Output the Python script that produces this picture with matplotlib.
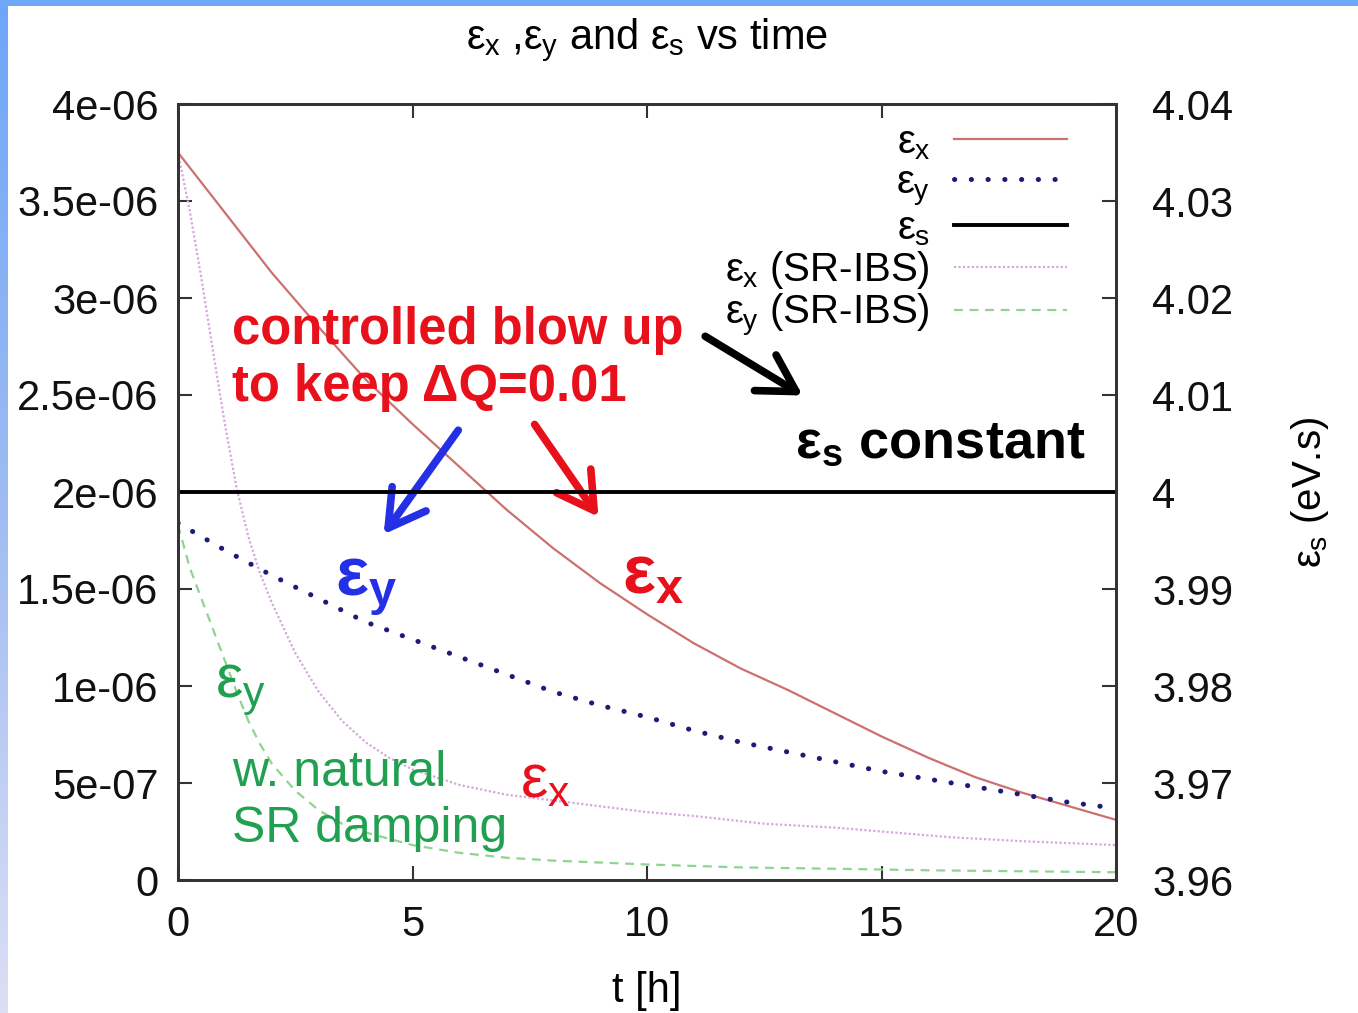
import numpy as np
import matplotlib
matplotlib.use("Agg")
import matplotlib.pyplot as plt
from matplotlib.colors import LinearSegmentedColormap

plt.rcParams['font.family'] = ['Liberation Sans', 'DejaVu Sans']
plt.rcParams['mathtext.fontset'] = 'custom'
plt.rcParams['mathtext.rm'] = 'Liberation Sans'
plt.rcParams['mathtext.it'] = 'Liberation Sans'
plt.rcParams['mathtext.bf'] = 'Liberation Sans:bold'

# ---- data ----
t_ex = [0, 1, 2, 3, 4, 5, 6, 7, 8, 9, 10, 11, 12, 13, 14, 15, 16, 17, 18, 19, 20]
ex = [3.75, 3.44, 3.13, 2.85, 2.58, 2.35, 2.13, 1.91, 1.71, 1.53, 1.37,
      1.22, 1.09, 0.98, 0.86, 0.74, 0.63, 0.53, 0.45, 0.38, 0.31]                  # 1e-6

t_ey = [0, 1, 2, 3, 4, 5, 6, 7, 8, 9, 10, 11, 12, 13, 14, 15, 16, 17, 18, 19, 20]
ey = [1.84, 1.70, 1.57, 1.45, 1.33, 1.24, 1.15, 1.06, 0.97, 0.90, 0.84,
      0.77, 0.71, 0.66, 0.61, 0.56, 0.52, 0.48, 0.44, 0.40, 0.37]                  # 1e-6

t_es = [0, 20]
es = [4.0, 4.0]                                                                   # eV.s

t_ex_ibs = [0, 0.25, 0.5, 0.75, 1.0, 1.25, 1.5, 1.75, 2.0, 2.5, 3.0, 3.5, 4.0, 4.5,
            5.0, 6, 7, 8, 9, 10, 11, 12.5, 14, 15, 16.5, 18, 20]
ex_ibs = [3.75, 3.45, 3.10, 2.72, 2.35, 2.02, 1.77, 1.58, 1.43, 1.17, 0.97, 0.82, 0.71, 0.63,
          0.57, 0.49, 0.44, 0.41, 0.38, 0.35, 0.33, 0.29, 0.27, 0.25, 0.22, 0.20, 0.18]

t_ey_ibs = [0, 0.25, 0.5, 0.75, 1.0, 1.25, 1.5, 1.75, 2.0, 2.5, 3.0, 3.5, 4.0, 5, 6, 7, 8,
            10, 12, 14, 16, 18, 20]
ey_ibs = [1.83, 1.61, 1.45, 1.29, 1.13, 0.97, 0.82, 0.70, 0.60, 0.46, 0.36, 0.29, 0.245,
          0.18, 0.14, 0.115, 0.10, 0.08, 0.065, 0.058, 0.05, 0.045, 0.04]

xticks = [0, 5, 10, 15, 20]
yticks = [0, 0.5e-6, 1e-6, 1.5e-6, 2e-6, 2.5e-6, 3e-6, 3.5e-6, 4e-6]
ytick_labels = ['0', '5e-07', '1e-06', '1.5e-06', '2e-06', '2.5e-06', '3e-06', '3.5e-06', '4e-06']
y2ticks = [3.96, 3.97, 3.98, 3.99, 4.00, 4.01, 4.02, 4.03, 4.04]
y2tick_labels = ['3.96', '3.97', '3.98', '3.99', '4', '4.01', '4.02', '4.03', '4.04']

W, H = 1358, 1013
fig = plt.figure(figsize=(W / 100, H / 100), dpi=100)
fig.patch.set_facecolor('white')

L, R, B, T = 178, 1116, 880, 104
ax = fig.add_axes([L / W, 1 - B / H, (R - L) / W, (B - T) / H])
ax2 = ax.twinx()

c_ex = '#cc7070'
c_ey = '#1c1c78'
c_exi = '#d4a8dc'
c_eyi = '#8fd48f'

sc = 1e-6
l1, = ax.plot(t_ex, np.array(ex) * sc, color=c_ex, lw=1.6)
l2, = ax.plot(t_ey, np.array(ey) * sc, color=c_ey, lw=3.6, linestyle=(0, (0.05, 3.3)),
              dash_capstyle='round')
l4, = ax.plot(t_ex_ibs, np.array(ex_ibs) * sc, color=c_exi, lw=1.6, linestyle=(0, (1, 1)))
l5, = ax.plot(t_ey_ibs, np.array(ey_ibs) * sc, color=c_eyi, lw=1.6, linestyle=(0, (4, 3)))
l3, = ax2.plot(t_es, es, color='black', lw=2.8)

ax.set_xlim(0, 20)
ax.set_ylim(0, 4e-6)
ax2.set_ylim(3.96, 4.04)
ax.set_xticks(xticks)
ax.set_xticklabels([str(v) for v in xticks])
ax.set_yticks(yticks)
ax.set_yticklabels(ytick_labels)
ax2.set_yticks(y2ticks)
ax2.set_yticklabels(y2tick_labels)

for a in (ax, ax2):
    for s in a.spines.values():
        s.set_color('#333333')
        s.set_linewidth(2)
ax.tick_params(axis='x', direction='in', length=10, width=1.5, color='#333333',
               labelsize=30, pad=18, top=True, labelcolor='#111111')
ax.tick_params(axis='y', direction='in', length=10, width=1.5, color='#333333',
               labelsize=30, pad=14, right=False, labelcolor='#111111')
ax2.tick_params(axis='y', direction='in', length=10, width=1.5, color='#333333',
                labelsize=30, pad=26, labelcolor='#111111')

ax.set_xlabel('t [h]', fontsize=30, labelpad=19)
ax2.set_ylabel(r'$\varepsilon_s$ (eV.s)', fontsize=29, labelpad=40)

fig.text((L + R) / 2 / W, 1 - 40 / H,
         r'$\varepsilon_x$ ,$\varepsilon_y$ and $\varepsilon_s$ vs time',
         ha='center', va='center', fontsize=30)

# legend
handles = [l1, l2, l3, l4, l5]
labels = [r'$\varepsilon_x$', r'$\varepsilon_y$', r'$\varepsilon_s$',
          r'$\varepsilon_x$ (SR-IBS)', r'$\varepsilon_y$ (SR-IBS)']
leg = ax2.legend(handles, labels, loc='upper right', bbox_to_anchor=(0.948, 0.975),
                 markerfirst=False, frameon=False, fontsize=29, handlelength=2.8,
                 handletextpad=0.6, labelspacing=0.03, borderpad=0, borderaxespad=0)

# annotations
red = '#e8101a'
blue = '#2430e6'
green = '#20a050'
ax.text(1.15, 2.96 * sc, 'controlled blow up\nto keep ΔQ=0.01',
        color=red, fontsize=36.5, fontweight='bold',
        ha='left', va='top', linespacing=1.22)

def data_annot(xy_from, xy_to, color):
    ax.annotate('', xy=(xy_to[0], xy_to[1] * sc), xytext=(xy_from[0], xy_from[1] * sc),
                arrowprops=dict(arrowstyle='->,head_length=1.3,head_width=0.75',
                                color=color, lw=5.5, mutation_scale=20))

data_annot((6.01, 2.33), (4.35, 1.77), blue)
data_annot((7.57, 2.36), (9.00, 1.86), red)
data_annot((11.19, 2.81), (13.37, 2.49), 'black')

ax.text(3.35, 1.47 * sc, r'$\mathbf{\varepsilon_y}$', color=blue, fontsize=50,
        ha='left', va='baseline')
ax.text(9.47, 1.48 * sc, r'$\mathbf{\varepsilon_x}$', color=red, fontsize=50,
        ha='left', va='baseline')
ax.text(13.16, 2.175 * sc, r'$\mathbf{\varepsilon_s}$ constant', color='black',
        fontsize=39, fontweight='bold', ha='left', va='baseline')
ax.text(0.79, 0.943 * sc, r'$\varepsilon_y$', color=green, fontsize=44,
        ha='left', va='baseline')
ax.text(1.15, 0.67 * sc, 'w. natural\nSR damping', color=green, fontsize=36,
        ha='left', va='top', linespacing=1.28)
ax.text(7.29, 0.428 * sc, r'$\varepsilon_x$', color=red, fontsize=44,
        ha='left', va='baseline')

# blue slide frame
fig.add_artist(plt.Rectangle((0, 1 - 6 / H), 1, 6 / H, transform=fig.transFigure,
                             color='#6ea6f8', lw=0))
sax = fig.add_axes([0, 0, 8 / W, 1 - 6 / H])
cmap = LinearSegmentedColormap.from_list('g', ['#6ea6f8', '#9fbcf2', '#dcdff4'])
sax.imshow(np.linspace(0, 1, 256).reshape(-1, 1), aspect='auto', cmap=cmap)
sax.axis('off')

fig.savefig('out.png', dpi=100)
